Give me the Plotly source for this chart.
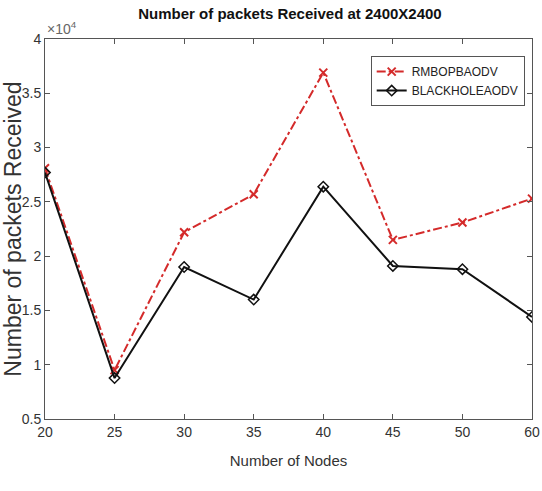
import plotly.graph_objects as go

nodes = ["20", "25", "30", "35", "40", "45", "50", "60"]
rmbopbaodv = [2.81, 0.95, 2.22, 2.57, 3.69, 2.15, 2.31, 2.53]
blackholeaodv = [2.77, 0.877, 1.90, 1.60, 2.64, 1.91, 1.88, 1.44]
yticks = [0.5, 1, 1.5, 2, 2.5, 3, 3.5, 4]

SANS = "Liberation Sans, Arial, sans-serif"

fig = go.Figure()
fig.add_trace(go.Scatter(
    x=nodes, y=rmbopbaodv, name="RMBOPBAODV", mode="lines+markers",
    line=dict(color="#d42a2a", width=2, dash="dashdot"),
    marker=dict(symbol="x-thin-open", size=8, color="#d42a2a", line=dict(width=2, color="#d42a2a")),
))
fig.add_trace(go.Scatter(
    x=nodes, y=blackholeaodv, name="BLACKHOLEAODV", mode="lines+markers",
    line=dict(color="#111111", width=2),
    marker=dict(symbol="diamond-open", size=8, color="#111111", line=dict(width=1.5, color="#111111")),
))

axis_common = dict(
    showline=True, linecolor="#555555", linewidth=1, mirror="allticks",
    ticks="inside", ticklen=5, tickcolor="#555555", showgrid=False, zeroline=False,
    tickfont=dict(family=SANS, size=14, color="#333333"),
)

fig.update_xaxes(
    type="category", range=[0, 7],
    title=dict(text="Number of Nodes", font=dict(family=SANS, size=15, color="#333333"), standoff=16),
    **axis_common,
)
fig.update_yaxes(
    range=[0.5, 4], tickvals=yticks, ticktext=[f"{v:g}" for v in yticks],
    title=dict(text="Number of packets Received", font=dict(family=SANS, size=23, color="#333333"), standoff=4),
    **axis_common,
)

fig.update_layout(
    width=542, height=491,
    margin=dict(l=45, r=10, t=39, b=72, autoexpand=False),
    paper_bgcolor="white", plot_bgcolor="white",
    title=dict(text="<b>Number of packets Received at 2400X2400</b>",
               font=dict(family=SANS, size=15, color="#111111"),
               x=0.535, xanchor="center", y=0.982, yanchor="top"),
    legend=dict(x=0.985, y=0.955, xanchor="right", yanchor="top",
                bordercolor="#555555", borderwidth=1, bgcolor="white",
                font=dict(family=SANS, size=12, color="#222222"),
                tracegroupgap=2, itemwidth=30),
    showlegend=True,
    annotations=[dict(text="×10<sup>4</sup>", xref="paper", yref="paper", x=0.0, y=1.0,
                      xanchor="left", yanchor="bottom", showarrow=False,
                      font=dict(family=SANS, size=14, color="#666666"))],
)

fig.write_html("out.html")
